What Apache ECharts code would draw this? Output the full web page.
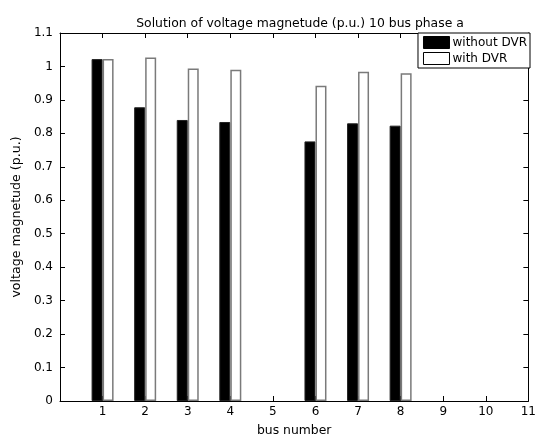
<!DOCTYPE html>
<html>
<head>
<meta charset="utf-8">
<script src="https://cdn.jsdelivr.net/npm/echarts@6/dist/echarts.min.js"></script>
<style>
  html, body { margin: 0; padding: 0; background: #fff; }
  #chart { width: 539px; height: 442px; }
</style>
</head>
<body>
<div id="chart"></div>
<script>
// bus numbers and voltage magnitude (p.u.), bus 5 has no data
const buses = [1, 2, 3, 4, 6, 7, 8];
const withoutDVR = [1.022, 0.878, 0.840, 0.834, 0.776, 0.830, 0.823];
const withDVR = [1.022, 1.027, 0.994, 0.990, 0.942, 0.984, 0.980];

const FONT = 'DejaVu Sans, sans-serif';

const chart = echarts.init(document.getElementById('chart'));

// 박스 테두리 / 안쪽 눈금 스타일 (축마다 새 객체)
function boxLine() {
	return { show: true, onZero: false, lineStyle: { color: '#000', width: 1 } };
}
function boxTick() {
	return { show: true, inside: true, length: 5, lineStyle: { color: '#000', width: 1 } };
}

const option = {
	animation: false,
	backgroundColor: '#fff',
	title: {
		text: 'Solution of voltage magnetude (p.u.) 10 bus phase a',
		left: 295,
		textAlign: 'center',
		top: 13,
		textStyle: { fontSize: 12.4, fontWeight: 'normal', color: '#000', fontFamily: FONT }
	},
	legend: {
		orient: 'vertical',
		right: 9,
		top: 33,
		itemWidth: 26,
		itemHeight: 12,
		itemGap: 3,
		padding: [3, 3, 3, 5],
		borderColor: '#000',
		borderWidth: 1,
		borderRadius: 0,
		backgroundColor: '#fff',
		textStyle: { fontSize: 12, color: '#000', fontFamily: FONT, padding: [0, 0, 0, -2] },
		data: [
			{ name: 'without DVR', icon: 'rect', itemStyle: { color: '#000', borderColor: '#000', borderWidth: 1 } },
			{ name: 'with DVR', icon: 'rect', itemStyle: { color: '#fff', borderColor: '#000', borderWidth: 1 } }
		]
	},
	grid: { left: 60, right: 9, top: 33, bottom: 38 },
	xAxis: [
		{
			type: 'value',
			min: 0, max: 11, interval: 1,
			name: 'bus number',
			nameLocation: 'middle',
			nameGap: 24,
			nameTextStyle: { fontSize: 12.4, color: '#000', fontFamily: FONT },
			axisLine: boxLine(),
			axisTick: boxTick(),
			splitLine: { show: false },
			axisLabel: {
				fontSize: 12, color: '#000', fontFamily: FONT, margin: 5,
				formatter: v => (v === 0 ? '' : String(v))
			}
		},
		{
			type: 'value',
			position: 'top',
			min: 0, max: 11, interval: 1,
			axisLine: boxLine(),
			axisTick: boxTick(),
			splitLine: { show: false },
			axisLabel: { show: false }
		}
	],
	yAxis: [
		{
			type: 'value',
			min: 0, max: 1.1, interval: 0.1,
			name: 'voltage magnetude (p.u.)',
			nameLocation: 'middle',
			nameGap: 33,
			nameTextStyle: { fontSize: 12.6, color: '#000', fontFamily: FONT },
			axisLine: boxLine(),
			axisTick: boxTick(),
			splitLine: { show: false },
			axisLabel: {
				fontSize: 12, color: '#000', fontFamily: FONT, margin: 7,
				formatter: v => String(Math.round(v * 10) / 10)
			}
		},
		{
			type: 'value',
			position: 'right',
			min: 0, max: 1.1, interval: 0.1,
			axisLine: boxLine(),
			axisTick: boxTick(),
			splitLine: { show: false },
			axisLabel: { show: false }
		}
	],
	series: [
		{
			name: 'without DVR',
			type: 'bar',
			xAxisIndex: 0,
			yAxisIndex: 0,
			barWidth: 11,
			barGap: '0%',
			data: buses.map((b, i) => [b, withoutDVR[i]]),
			itemStyle: { color: '#000', borderColor: '#222', borderWidth: 1 }
		},
		{
			name: 'with DVR',
			type: 'bar',
			xAxisIndex: 0,
			yAxisIndex: 0,
			barWidth: 11,
			barGap: '0%',
			data: buses.map((b, i) => [b, withDVR[i]]),
			itemStyle: { color: '#fff', borderColor: '#7a7a7a', borderWidth: 1.5 }
		}
	]
};

chart.setOption(option);
</script>
</body>
</html>
